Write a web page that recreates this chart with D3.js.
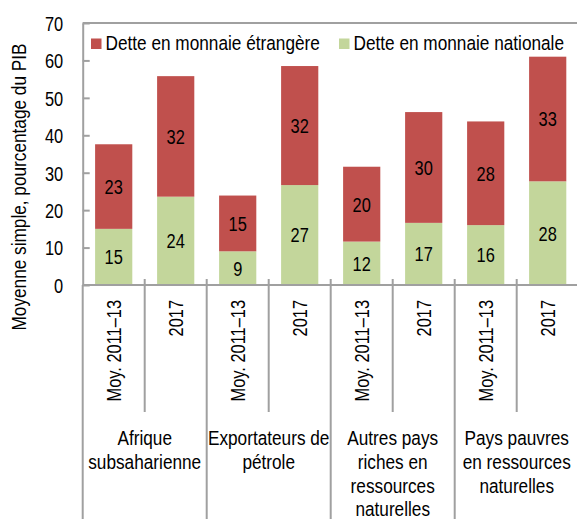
<!DOCTYPE html>
<html>
<head>
<meta charset="utf-8">
<script src="https://cdn.jsdelivr.net/npm/d3@7"></script>
<style>
  html, body { margin: 0; padding: 0; background: #fff; }
  svg { display: block; }
  text { font-family: "Liberation Sans Narrow", "Arial Narrow", "Liberation Sans", Arial, sans-serif; fill: #000; }
</style>
</head>
<body>
<svg id="chart" width="577" height="519"></svg>
<script>
// ---- data ----
const groups = [
  ["Afrique", "subsaharienne"],
  ["Exportateurs de", "pétrole"],
  ["Autres pays", "riches en", "ressources", "naturelles"],
  ["Pays pauvres", "en ressources", "naturelles"]
];
const periods = ["Moy. 2011–13", "2017"];
const national = [15.0, 23.6, 9.0, 26.7, 11.6, 16.6, 16.0, 27.7];
const foreign  = [22.6, 32.2, 14.9, 31.8, 20.0, 29.6, 27.7, 33.3];
const seriesNames = ["Dette en monnaie étrangère", "Dette en monnaie nationale"];
const yTicks = [0, 10, 20, 30, 40, 50, 60, 70];
const yTitle = "Moyenne simple, pourcentage du PIB";

// ---- layout ----
const colors = { foreign: "#C0504D", national: "#C3D69B" };
const axisColor = "#a0a0a0";
const fontSize = 20.5;
const sxText = 0.84; // horizontal condensation for words (narrow face)
const sxNum = 0.80;  // horizontal condensation for figures
const plotLeft = 82.7, plotRight = 578.7, plotTop = 23, plotBottom = 285;

const svg = d3.select("#chart");

// helper: condensed text
function label(parent, px, py, rot, anchor, txt, dy, sx) {
  return parent.append("text")
    .attr("transform", `translate(${px},${py}) rotate(${rot}) scale(${sx},1)`)
    .attr("text-anchor", anchor)
    .attr("dy", dy || 0)
    .attr("font-size", fontSize)
    .text(txt);
}

const bars = [];
groups.forEach((g, gi) => periods.forEach((p, pi) => {
  const i = gi * periods.length + pi;
  bars.push({ i, group: gi, period: p, national: national[i], foreign: foreign[i] });
}));

const x = d3.scaleBand().domain(bars.map(d => d.i)).range([plotLeft, plotRight])
  .paddingInner(0.4).paddingOuter(0.2);
const y = d3.scaleLinear().domain([0, 70]).range([plotBottom, plotTop]);

const stacked = d3.stack().keys(["national", "foreign"])(bars);

// top frame line
svg.append("line").attr("x1", plotLeft).attr("x2", 577).attr("y1", plotTop).attr("y2", plotTop)
  .attr("stroke", axisColor).attr("stroke-width", 2);

// bars + value labels
stacked.forEach(layer => {
  svg.append("g").selectAll("rect").data(layer).join("rect")
    .attr("x", d => x(d.data.i))
    .attr("width", x.bandwidth())
    .attr("y", d => y(d[1]))
    .attr("height", d => y(d[0]) - y(d[1]))
    .attr("fill", colors[layer.key]);
  const lgp = svg.append("g");
  layer.forEach(d => {
    label(lgp, x(d.data.i) + x.bandwidth() / 2, (y(d[0]) + y(d[1])) / 2, 0, "middle",
      Math.round(d.data[layer.key]), "0.36em", sxNum);
  });
});

// y axis
const yAxis = d3.axisLeft(y).tickValues(yTicks).tickSize(-7).tickPadding(0).tickSizeOuter(0);
const gy = svg.append("g").attr("transform", `translate(${plotLeft},0)`).call(yAxis);
gy.select(".domain").attr("stroke", axisColor).attr("stroke-width", 2);
gy.selectAll(".tick line").attr("stroke", axisColor).attr("stroke-width", 2);
gy.selectAll(".tick text")
  .attr("x", 0).attr("dy", "0.36em")
  .attr("transform", `translate(-19.5,0) scale(${sxNum},1)`)
  .attr("font-size", fontSize).attr("font-family", null).attr("fill", "#000");
// extend y axis line down to the bottom
svg.append("line").attr("x1", plotLeft).attr("x2", plotLeft).attr("y1", plotBottom).attr("y2", 519)
  .attr("stroke", axisColor).attr("stroke-width", 2);

// x axis line
svg.append("line").attr("x1", plotLeft).attr("x2", 577).attr("y1", plotBottom).attr("y2", plotBottom)
  .attr("stroke", axisColor).attr("stroke-width", 2);

// x tick separators
const step = x.step();
svg.append("g").selectAll("line").data(d3.range(1, bars.length + 1)).join("line")
  .attr("x1", k => plotLeft + k * step).attr("x2", k => plotLeft + k * step)
  .attr("y1", plotBottom - 6)
  .attr("y2", k => (k % periods.length === 0) ? 519 : 412)
  .attr("stroke", axisColor).attr("stroke-width", 2);

// period labels (rotated)
const pg = svg.append("g");
bars.forEach(d => {
  label(pg, x(d.i) + x.bandwidth() / 2, 300, -90, "end", d.period, "0.36em", sxNum);
});

// group labels
const gg = svg.append("g");
groups.forEach((lines, gi) => {
  const cx = plotLeft + (gi * periods.length + periods.length / 2) * step;
  lines.forEach((ln, li) => label(gg, cx, 445 + li * 23.8, 0, "middle", ln, 0, sxText));
});

// y title
label(svg, 19, 187, -90, "middle", yTitle, "0.36em", sxText);

// legend
const legendItems = [
  { name: seriesNames[0], color: colors.foreign, x: 91 },
  { name: seriesNames[1], color: colors.national, x: 339 }
];
const lg = svg.append("g");
legendItems.forEach(it => {
  lg.append("rect").attr("x", it.x).attr("y", 38.5).attr("width", 10.5).attr("height", 10.5).attr("fill", it.color);
  label(lg, it.x + 14.5, 49.5, 0, "start", it.name, 0, sxText);
});
</script>
</body>
</html>
